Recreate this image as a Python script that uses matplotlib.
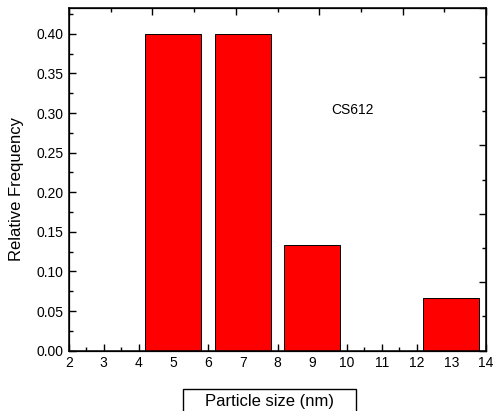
import matplotlib
matplotlib.use("Agg")
import matplotlib.pyplot as plt
from matplotlib.patches import Rectangle
from matplotlib.ticker import MultipleLocator

plt.rcParams['font.family'] = ['Liberation Sans', 'DejaVu Sans']

sizes = [5, 7, 9, 13]
freqs = [0.40, 0.40, 0.1333, 0.0667]
bar_width = 1.6
sample_label = "CS612"

fig = plt.figure(figsize=(4.94, 4.11), dpi=100)
ax = fig.add_axes([69/494, 1-350.7/411, (486-69)/494, (350.7-8.5)/411])
ax.bar(sizes, freqs, width=bar_width, color='#ff0000', edgecolor='black', linewidth=0.7, zorder=2)
ax.set_xlim(2, 14)
ax.set_ylim(0, 0.432)
ax.xaxis.set_major_locator(MultipleLocator(1))
ax.xaxis.set_minor_locator(MultipleLocator(0.5))
ax.yaxis.set_major_locator(MultipleLocator(0.05))
ax.yaxis.set_minor_locator(MultipleLocator(0.025))
ax.tick_params(which='major', direction='in', length=5, width=1, labelsize=10, pad=4)
ax.tick_params(which='minor', direction='in', length=3, width=1)
ax.yaxis.set_major_formatter(matplotlib.ticker.FormatStrFormatter('%.2f'))
for s in ax.spines.values():
    s.set_linewidth(1.1)
ax.text(352.5/494, 1-110/411, sample_label, fontsize=10, ha='center', va='center',
        transform=fig.transFigure)
fig.text(17/494, 1-189/411, 'Relative Frequency', fontsize=12, rotation=90,
         ha='center', va='center')

# top and right decorative ticks
axt = ax.twiny()
axt.set_xlim(0, 10)
axt.xaxis.set_major_locator(MultipleLocator(2))
axt.xaxis.set_minor_locator(MultipleLocator(1))
axt.tick_params(which='major', direction='in', length=5, width=1, labeltop=False)
axt.tick_params(which='minor', direction='in', length=3, width=1)
axr = ax.twinx()
axr.set_ylim(0, 10)
axr.yaxis.set_major_locator(MultipleLocator(2))
axr.yaxis.set_minor_locator(MultipleLocator(1))
axr.tick_params(which='major', direction='in', length=5, width=1, labelright=False)
axr.tick_params(which='minor', direction='in', length=3, width=1)

# boxed x label
box = Rectangle((183.3/494, -0.05), (355.7-183.3)/494, 0.05 + (411-389)/411,
                transform=fig.transFigure, fill=False, edgecolor='black', linewidth=1)
fig.patches.append(box)
fig.text(269.5/494, 1-401/411, 'Particle size (nm)', fontsize=12, ha='center', va='center')

fig.savefig('out.png', dpi=100)
